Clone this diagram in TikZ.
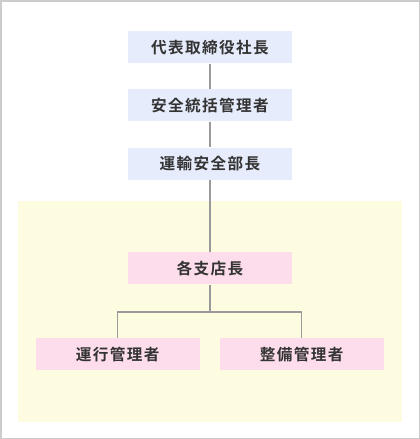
\documentclass[tikz,border=0pt]{standalone}
\usepackage{fontspec}
\newfontfamily\cjk[LetterSpace=9]{Noto Sans CJK JP Bold}
\definecolor{bluebox}{HTML}{E6ECFC}
\definecolor{pinkbox}{HTML}{FDDDEB}
\definecolor{yellowbg}{HTML}{FEFCE0}
\definecolor{linegray}{HTML}{9A9A9A}
\definecolor{framegray}{HTML}{CCCCCC}
\definecolor{txt}{HTML}{333333}
\tikzset{
  box/.style={minimum width=164pt, minimum height=32.5pt, inner sep=0pt, text=txt,
    font=\cjk\fontsize{15.6}{18}\selectfont},
  bluenode/.style={box, fill=bluebox},
  pinknode/.style={box, fill=pinkbox},
  conn/.style={draw=linegray, line width=1.2pt}
}
\begin{document}
\begin{tikzpicture}[x=1pt,y=-1pt]
\useasboundingbox (0,0) rectangle (420,439);
\draw[framegray, line width=1.5pt, fill=white] (0.75,0.75) rectangle (419.25,438.25);
\fill[yellowbg] (17.7,201) rectangle (402,421.7);
\node[bluenode] (a) at (210,47.2) {代表取締役社長};
\node[bluenode] (b) at (210,105.2) {安全統括管理者};
\node[bluenode] (c) at (210,163.8) {運輸安全部長};
\node[pinknode] (d) at (210,268.2) {各支店長};
\node[pinknode] (e) at (117.8,354.2) {運行管理者};
\node[pinknode] (f) at (301.8,354.2) {整備管理者};
\coordinate (j) at (210,312);
\draw[conn] (a) -- (b);
\draw[conn] (b) -- (c);
\draw[conn] (c) -- (d);
\draw[conn] (d) -- (j);
\draw[conn] (j) -- (j -| e) -- (e);
\draw[conn] (j) -- (j -| f) -- (f);
\end{tikzpicture}
\end{document}
